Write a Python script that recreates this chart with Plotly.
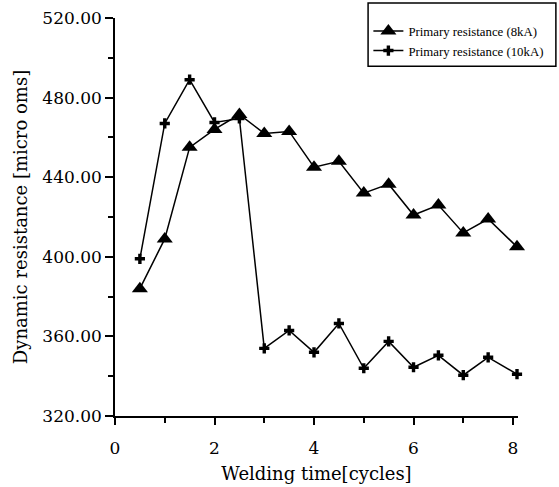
import plotly.graph_objects as go

# Data
time_8ka = [0.5, 1.0, 1.5, 2.0, 2.5, 3.0, 3.5, 4.0, 4.5, 5.0, 5.5, 6.0, 6.5, 7.0, 7.5, 8.08]
res_8ka = [384, 409, 455, 464, 471.5, 462, 463, 445, 448, 432, 436.5, 421, 426, 412, 419, 405]

time_10ka = [0.5, 1.0, 1.5, 2.0, 2.5, 3.0, 3.5, 4.0, 4.5, 5.0, 5.5, 6.0, 6.5, 7.0, 7.5, 8.08]
res_10ka = [399, 467, 489, 467.5, 469.5, 354, 363, 352, 366.5, 344, 357.5, 344.5, 350.5, 340.5, 349.5, 341]

series_names = ["Primary resistance (8kA)", "Primary resistance (10kA)"]
x_title = "Welding time[cycles]"
y_title = "Dynamic resistance [micro oms]"

serif = "DejaVu Serif"
legend_font = "Liberation Serif"

fig = go.Figure()
fig.add_trace(go.Scatter(
    x=time_8ka, y=res_8ka, mode="lines+markers", name=series_names[0],
    line=dict(color="black", width=1.5),
    marker=dict(symbol="triangle-up", size=14, color="black"),
    cliponaxis=False,
))
fig.add_trace(go.Scatter(
    x=time_10ka, y=res_10ka, mode="lines+markers", name=series_names[1],
    line=dict(color="black", width=1.5),
    marker=dict(symbol="cross", size=8.5, color="black"),
    cliponaxis=False,
))

fig.update_layout(
    width=559, height=487,
    margin=dict(l=115, r=41, t=18, b=71, autoexpand=False),
    paper_bgcolor="white", plot_bgcolor="white",
    showlegend=True,
    legend=dict(
        xref="container", yref="container",
        x=0.659, y=0.967, xanchor="left", yanchor="top",
        bgcolor="rgba(0,0,0,0)", borderwidth=0,
        font=dict(family=legend_font, size=12.8, color="black"),
        tracegroupgap=0,
    ),
    shapes=[dict(type="rect", xref="paper", yref="paper",
                 x0=0.628, x1=1.094, y0=0.879, y1=1.0377,
                 line=dict(color="black", width=1.5))],
)

fig.update_xaxes(
    range=[0, 8.1], tickmode="linear", tick0=0, dtick=2,
    automargin=False,
    showline=True, linecolor="black", linewidth=1.5,
    ticks="outside", ticklen=7, tickwidth=1.5, tickcolor="black",
    minor=dict(ticks="outside", dtick=1, ticklen=5, tickwidth=1.5, tickcolor="black"),
    showgrid=False, zeroline=False,
    ticklabelstandoff=9,
    tickfont=dict(family=serif, size=17, color="black"),
    title=dict(text=x_title, font=dict(family=serif, size=18, color="black"), standoff=10),
)
fig.update_yaxes(
    range=[320, 520], tickmode="linear", tick0=320, dtick=40,
    tickformat=".2f",
    automargin=False,
    showline=True, linecolor="black", linewidth=1.5,
    ticks="outside", ticklen=8, tickwidth=1.5, tickcolor="black",
    minor=dict(ticks="outside", dtick=20, ticklen=5, tickwidth=1.5, tickcolor="black"),
    showgrid=False, zeroline=False,
    tickfont=dict(family=serif, size=17, color="black"),
    title=dict(text=y_title, font=dict(family=serif, size=18, color="black"), standoff=10),
)

fig.write_html("out.html")
